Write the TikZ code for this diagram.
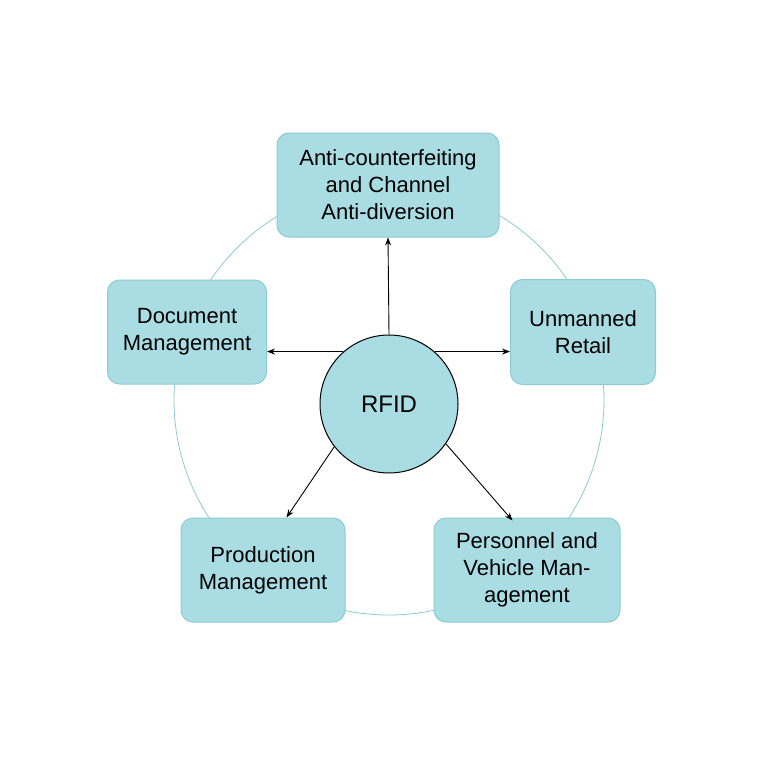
\documentclass[tikz,border=0pt]{standalone}
\usepackage{fontspec}
\setmainfont{Liberation Sans}
\usetikzlibrary{calc,arrows.meta}
\definecolor{boxfill}{HTML}{A9DDE3}
\definecolor{boxline}{HTML}{8CCBD3}
\begin{document}
\begin{tikzpicture}[x=1pt,y=-1pt,
  box/.style={draw=boxline,fill=boxfill,line width=1pt,rounded corners=12pt,align=center,font=\fontsize{22}{27}\selectfont,inner sep=0pt},
  arr/.style={-{Stealth[length=8pt,width=6pt]},line width=0.9pt,black}]
\useasboundingbox[fill=white] (0,0) rectangle (768,768);
\draw[boxline,line width=0.8pt] (389,400) circle[radius=215];
\node[box,minimum width=222pt,minimum height=104pt] (top) at (388,185) {Anti-counterfeiting\\and Channel\\Anti-diversion};
\node[box,minimum width=159pt,minimum height=104pt] (left) at (187,332) {Document\\Management};
\node[box,minimum width=145pt,minimum height=105pt] (right) at (583,332) {Unmanned\\Retail};
\node[box,minimum width=164pt,minimum height=104pt] (bl) at (263,570) {Production\\Management};
\node[box,minimum width=186pt,minimum height=104pt] (br) at (527,570) {Personnel and\\Vehicle Man-\\agement};
\node[circle,draw=black,fill=boxfill,line width=1pt,minimum size=138pt,inner sep=0pt,font=\fontsize{24}{28}\selectfont] (c) at (389,404) {RFID};
\draw[arr] (c.north) -- (top.south);
\draw[arr] (c.131) -- (c.131 -| left.east);
\draw[arr] (c.49) -- (c.49 -| right.west);
\coordinate (blend) at ($(bl.north west)+(106,0)$);
\coordinate (brend) at ($(br.north west)+(79,3)$);
\draw[arr] (c.218) -- (blend);
\draw[arr] (c.325) -- (brend);
\end{tikzpicture}
\end{document}
